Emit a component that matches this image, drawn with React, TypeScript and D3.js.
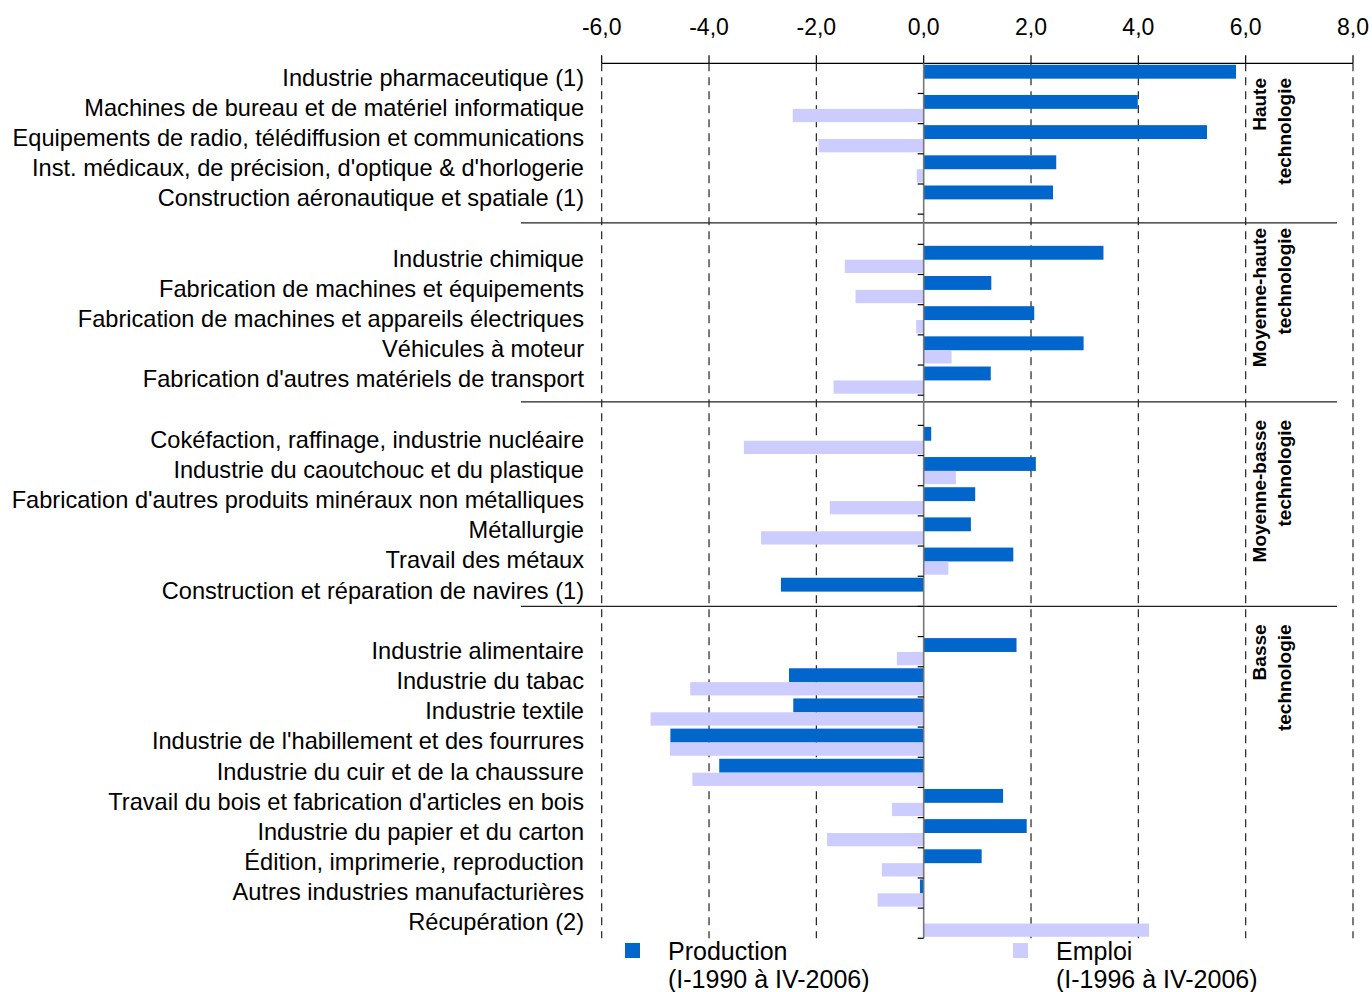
import React from 'react';
import * as d3 from 'd3';

// Groups (rotated labels on the right)
const groupNames: string[][] = [
  ['Haute', 'technologie'],
  ['Moyenne-haute', 'technologie'],
  ['Moyenne-basse', 'technologie'],
  ['Basse', 'technologie'],
];

const categories = [
  'Industrie pharmaceutique (1)',
  'Machines de bureau et de matériel informatique',
  'Equipements de radio, télédiffusion et communications',
  "Inst. médicaux, de précision, d'optique & d'horlogerie",
  'Construction aéronautique et spatiale (1)',
  'Industrie chimique',
  'Fabrication de machines et équipements',
  'Fabrication de machines et appareils électriques',
  'Véhicules à moteur',
  "Fabrication d'autres matériels de transport",
  'Cokéfaction, raffinage, industrie nucléaire',
  'Industrie du caoutchouc et du plastique',
  "Fabrication d'autres produits minéraux non métalliques",
  'Métallurgie',
  'Travail des métaux',
  'Construction et réparation de navires (1)',
  'Industrie alimentaire',
  'Industrie du tabac',
  'Industrie textile',
  "Industrie de l'habillement et des fourrures",
  'Industrie du cuir et de la chaussure',
  "Travail du bois et fabrication d'articles en bois",
  'Industrie du papier et du carton',
  'Édition, imprimerie, reproduction',
  'Autres industries manufacturières',
  'Récupération (2)',
];

const categoryGroup = [0, 0, 0, 0, 0, 1, 1, 1, 1, 1, 2, 2, 2, 2, 2, 2, 3, 3, 3, 3, 3, 3, 3, 3, 3, 3];

const production: (number | null)[] = [
  5.82, 3.99, 5.28, 2.47, 2.41,
  3.35, 1.26, 2.06, 2.98, 1.25,
  0.14, 2.09, 0.96, 0.88, 1.67, -2.66,
  1.73, -2.51, -2.43, -4.72, -3.81, 1.48, 1.92, 1.08, -0.07, null,
];

const emploi: (number | null)[] = [
  null, -2.44, -1.96, -0.13, null,
  -1.47, -1.27, -0.14, 0.52, -1.68,
  -3.35, 0.6, -1.75, -3.03, 0.46, null,
  -0.5, -4.35, -5.09, -4.73, -4.31, -0.59, -1.8, -0.78, -0.86, 4.2,
];

const xTicks = [-6, -4, -2, 0, 2, 4, 6, 8];

const legendItems = [
  { name: 'Production', period: '(I-1990 à IV-2006)', color: '#0066CC' },
  { name: 'Emploi', period: '(I-1996 à IV-2006)', color: '#CCCCFF' },
];

const FONT = '"Liberation Sans", Arial, Helvetica, sans-serif';

export default function App() {
  const width = 1372;
  const height = 992;
  const top = 63.3;
  const bottom = 938.3;

  // slot keys: categories, with a blank slot between groups
  const slotKeys: string[] = [];
  categories.forEach((c, i) => {
    if (i > 0 && categoryGroup[i] !== categoryGroup[i - 1]) slotKeys.push(`gap-${categoryGroup[i - 1]}`);
    slotKeys.push(c);
  });

  const x = d3.scaleLinear().domain([-6, 8]).range([601.7, 1353]);
  const y = d3.scaleBand<string>().domain(slotKeys).range([top, bottom]).paddingInner(0).paddingOuter(0);
  const step = y.step();
  const x0 = x(0);

  const sepOffsets = [0.29, 0.22, 0.0];
  const separators = [0, 1, 2].map(g => (y(`gap-${g}`) as number) + step * sepOffsets[g]);
  const groupTops = [top, ...separators];
  const labelOffsets = [14.7, 5, 18, 18];

  const fmt = (d: number) => d.toFixed(1).replace('.', ',');

  const bar = (v: number | null, yy: number, h: number, color: string, key: string) => {
    if (v === null) return null;
    const a = x(Math.min(0, v));
    const b = x(Math.max(0, v));
    return <rect key={key} x={a} y={yy} width={b - a} height={h} fill={color} />;
  };

  return (
    <svg width={width} height={height} style={{ position: 'absolute', left: 0, top: 0, background: '#fff' }} fontFamily={FONT}>
      {/* top axis */}
      <line x1={x(-6)} x2={x(8)} y1={top} y2={top} stroke="#000" strokeWidth={1.3} />
      {xTicks.map(t => (
        <g key={`t${t}`}>
          <line x1={x(t)} x2={x(t)} y1={top - 8} y2={top} stroke="#000" strokeWidth={1.2} />
          <text x={x(t)} y={27} dy="0.35em" textAnchor="middle" fontSize={23} fill="#000">{fmt(t)}</text>
          {t !== 0 && (
            <line x1={x(t)} x2={x(t)} y1={top} y2={bottom} stroke="#222" strokeWidth={1.2} strokeDasharray="8,6" />
          )}
        </g>
      ))}

      {/* separators */}
      {separators.map((s, i) => (
        <line key={`s${i}`} x1={521} x2={1337} y1={s} y2={s} stroke="#222" strokeWidth={1.4} />
      ))}

      {/* bars */}
      {categories.map((c, i) => {
        const yy = y(c) as number;
        return (
          <g key={c}>
            {bar(production[i], yy + step * 0.05, step * 0.46, '#0066CC', 'p')}
            {bar(emploi[i], yy + step * 0.51, step * 0.44, '#CCCCFF', 'e')}
            <text x={584} y={yy + step / 2 - 1} dy="0.35em" textAnchor="end" fontSize={23.6} fill="#000">{c}</text>
          </g>
        );
      })}

      {/* zero axis with minor ticks */}
      <line x1={x0} x2={x0} y1={top} y2={bottom} stroke="#777" strokeWidth={1.6} />
      {slotKeys.map(k => {
        const yy = (y(k) as number) + step;
        return <line key={`m${k}`} x1={x0 - 6} x2={x0} y1={yy} y2={yy} stroke="#000" strokeWidth={1.2} />;
      })}

      {/* group labels */}
      {groupNames.map((g, i) => {
        const yEnd = groupTops[i] + labelOffsets[i];
        return (
          <g key={`g${i}`}>
            {g.map((line, j) => (
              <text
                key={j}
                transform={`translate(${1259 + j * 25.5},${yEnd}) rotate(-90)`}
                dy="0.35em"
                textAnchor="end"
                fontSize={19}
                fontWeight="bold"
                fill="#000"
              >
                {line}
              </text>
            ))}
          </g>
        );
      })}

      {/* legend */}
      {legendItems.map((l, i) => {
        const lx = 625 + i * 388;
        return (
          <g key={l.name}>
            <rect x={lx} y={943} width={15} height={15} fill={l.color} />
            <text x={lx + 43} y={951} dy="0.35em" fontSize={25} fill="#000">{l.name}</text>
            <text x={lx + 43} y={979} dy="0.35em" fontSize={25} fill="#000">{l.period}</text>
          </g>
        );
      })}
    </svg>
  );
}
